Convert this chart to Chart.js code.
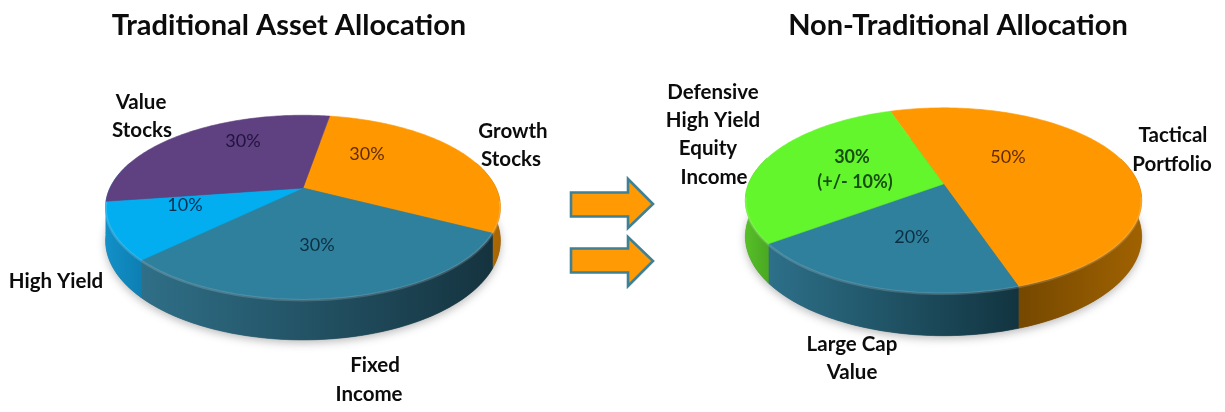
<!DOCTYPE html>
<html>
<head>
<meta charset="utf-8">
<style>
  html, body { margin: 0; padding: 0; background: #fff; }
  #stage { position: relative; width: 1225px; height: 412px; overflow: hidden; }
  canvas { position: absolute; top: 0; }
  svg { position: absolute; left: 0; top: 0; pointer-events: none; }
</style>
<script src="https://cdn.jsdelivr.net/npm/chart.js@4"></script>
</head>
<body>
<div id="stage">
  <canvas id="traditional" width="612" height="412" style="left:0"></canvas>
  <canvas id="nonTraditional" width="613" height="412" style="left:612px"></canvas>
  <svg width="1225" height="412">
    <g fill="#ff9a05" stroke="#3f8093" stroke-width="2.6" stroke-linejoin="miter">
      <path d="M571 192.500H628V179L653 204 628 228V216.500H571Z"/>
      <path d="M571 248.500H628V237L653 261 628 286V272.500H571Z"/>
    </g>
  </svg>
</div>
<script>
// Allocation figures for the two portfolios
const traditionalTitle = 'Traditional Asset Allocation';
const traditionalCategories = ['Growth Stocks', 'Fixed Income', 'High Yield', 'Value Stocks'];
const traditionalValues = [30, 30, 10, 30];

const nonTraditionalTitle = 'Non-Traditional Allocation';
const nonTraditionalCategories = ['Tactical Portfolio', 'Large Cap Value', 'Defensive High Yield Equity Income'];
const nonTraditionalValues = [50, 20, 30];
const defensiveBand = '(+/- 10%)';

// Slice styling: top face, then the wall's left and right shades
const traditionalColors = ['#ff9800', '#2f809d', '#03aef0', '#5f4080'];
const traditionalWalls = [['#b87000', '#a86400'], ['#2f6f87', '#15333f'], ['#1290c8', '#0d7fb2'], ['#1290c8', '#1290c8']];
const nonTraditionalColors = ['#ff9800', '#2f809d', '#64f62c'];
const nonTraditionalWalls = [['#754800', '#a06200'], ['#2d7089', '#123440'], ['#56c027', '#4aa822']];

// Draws each arc element as a tilted disc with a thick rim, with perspective
const tiltedPie = {
  id: 'tiltedPie',
  beforeDatasetDraw(chart, args, opts) {
    const ctx = chart.ctx;
    const arcs = chart.getDatasetMeta(args.index).data;
    const R = arcs[0].outerRadius;
    const cx = arcs[0].x;
    const { apexY, squash, persp, depth, walls } = opts;
    const k = a => 1 / (1 - persp * Math.sin(a));
    const px = a => cx + R * Math.cos(a) * k(a);
    const py = (a, d) => apexY + (R * squash * Math.sin(a) + d) * k(a);
    const STEP = Math.PI / 180;
    const sweep = (arc) => {
      const pts = [];
      const n = Math.max(2, Math.ceil((arc.endAngle - arc.startAngle) / STEP));
      for (let i = 0; i <= n; i++) pts.push(arc.startAngle + (arc.endAngle - arc.startAngle) * i / n);
      return pts;
    };

    ctx.save();
    // Soft ground shadow under the disc
    ctx.save();
    ctx.shadowColor = 'rgba(60,60,60,0.35)';
    ctx.shadowBlur = 9;
    ctx.shadowOffsetY = 3;
    ctx.fillStyle = '#555';
    ctx.beginPath();
    for (let i = 0; i <= 360; i += 3) {
      const a = i * STEP;
      ctx.lineTo(px(a), py(a, depth));
    }
    ctx.closePath();
    ctx.fill();
    ctx.restore();

    // Rim walls, only where they face forward
    arcs.forEach((arc, i) => {
      const front = sweep(arc).filter(a => Math.sin(a) > -0.3);
      if (front.length < 2) return;
      const xs = front.map(px);
      const g = ctx.createLinearGradient(Math.min(...xs), 0, Math.max(...xs), 0);
      g.addColorStop(0, walls[i][0]);
      g.addColorStop(1, walls[i][1]);
      ctx.fillStyle = g;
      ctx.strokeStyle = g;
      ctx.lineWidth = 0.6;
      ctx.beginPath();
      front.forEach(a => ctx.lineTo(px(a), py(a, 0)));
      front.slice().reverse().forEach(a => ctx.lineTo(px(a), py(a, depth)));
      ctx.closePath();
      ctx.fill();
      ctx.stroke();
    });

    // Top faces
    arcs.forEach(arc => {
      ctx.fillStyle = arc.options.backgroundColor;
      ctx.strokeStyle = arc.options.backgroundColor;
      ctx.lineWidth = 0.6;
      ctx.beginPath();
      ctx.moveTo(cx, apexY);
      sweep(arc).forEach(a => ctx.lineTo(px(a), py(a, 0)));
      ctx.closePath();
      ctx.fill();
      ctx.stroke();
    });

    // Light bevel along the front edge
    ctx.strokeStyle = 'rgba(255,255,255,0.16)';
    ctx.lineWidth = 2.5;
    ctx.beginPath();
    for (let i = 8; i <= 172; i += 2) {
      const a = i * STEP;
      ctx.lineTo(px(a), py(a, 0.6));
    }
    ctx.stroke();
    ctx.restore();
    return false;
  }
};

// Headings, category names and percentages
const captions = {
  id: 'captions',
  afterDraw(chart, args, opts) {
    const ctx = chart.ctx;
    ctx.save();
    ctx.textAlign = 'center';
    ctx.textBaseline = 'middle';
    opts.items.forEach(t => {
      ctx.font = t.font;
      ctx.fillStyle = t.color;
      ctx.fillText(t.text, t.x - opts.left, t.y);
    });
    ctx.restore();
  }
};

const TITLE = 'bold 29px Lato';
const NAME = 'bold 20.500px Lato';
const PCT = '18px Lato';
const PCT_BOLD = 'bold 18px Lato';
const INK = '#0c0c0c';

function makePie(id, title, labels, values, colors, tilt, padding, items) {
  new Chart(document.getElementById(id), {
    type: 'pie',
    data: { labels, datasets: [{ data: values, backgroundColor: colors, borderWidth: 0 }] },
    plugins: [tiltedPie, captions],
    options: {
      responsive: false,
      animation: false,
      rotation: tilt.rotation,
      layout: { padding },
      plugins: {
        legend: { display: false },
        tooltip: { enabled: false },
        tiltedPie: tilt,
        captions: { left: tilt.left, items: [{ text: title, x: tilt.titleX, y: 26, font: TITLE, color: INK }].concat(items) }
      }
    }
  });
}

makePie('traditional', traditionalTitle, traditionalCategories, traditionalValues, traditionalColors,
  { rotation: 9.6, apexY: 188, squash: 0.456, persp: 0.21, depth: 32, walls: traditionalWalls, left: 0, titleX: 289 },
  { top: 13, bottom: 13, right: 6 },
  [
    { text: 'Value', x: 141, y: 102, font: NAME, color: INK },
    { text: 'Stocks', x: 142, y: 130, font: NAME, color: INK },
    { text: 'Growth', x: 513, y: 131, font: NAME, color: INK },
    { text: 'Stocks', x: 511, y: 159, font: NAME, color: INK },
    { text: 'High Yield', x: 56, y: 281, font: NAME, color: INK },
    { text: 'Fixed', x: 375, y: 365, font: NAME, color: INK },
    { text: 'Income', x: 369, y: 394, font: NAME, color: INK },
    { text: traditionalValues[3] + '%', x: 243, y: 141, font: PCT, color: '#21133f' },
    { text: traditionalValues[0] + '%', x: 367, y: 154, font: PCT, color: '#602c00' },
    { text: traditionalValues[2] + '%', x: 185, y: 205, font: PCT, color: '#072f52' },
    { text: traditionalValues[1] + '%', x: 317, y: 245, font: PCT, color: '#0b2f42' }
  ]);

makePie('nonTraditional', nonTraditionalTitle, nonTraditionalCategories, nonTraditionalValues, nonTraditionalColors,
  { rotation: -18.6, apexY: 184, squash: 0.46, persp: 0.178, depth: 35, walls: nonTraditionalWalls, left: 612, titleX: 958 },
  { top: 11, bottom: 11, left: 50 },
  [
    { text: 'Defensive', x: 713, y: 92, font: NAME, color: INK },
    { text: 'High Yield', x: 713, y: 120, font: NAME, color: INK },
    { text: 'Equity', x: 708, y: 148, font: NAME, color: INK },
    { text: 'Income', x: 714, y: 177, font: NAME, color: INK },
    { text: 'Tactical', x: 1173, y: 135, font: NAME, color: INK },
    { text: 'Portfolio', x: 1172, y: 164, font: NAME, color: INK },
    { text: 'Large Cap', x: 852, y: 344, font: NAME, color: INK },
    { text: 'Value', x: 852, y: 372, font: NAME, color: INK },
    { text: nonTraditionalValues[2] + '%', x: 852, y: 157, font: PCT_BOLD, color: '#174f10' },
    { text: defensiveBand, x: 855, y: 182, font: PCT_BOLD, color: '#174f10' },
    { text: nonTraditionalValues[0] + '%', x: 1008, y: 157, font: PCT, color: '#602c00' },
    { text: nonTraditionalValues[1] + '%', x: 912, y: 237, font: PCT, color: '#0b2f42' }
  ]);
</script>
</body>
</html>
